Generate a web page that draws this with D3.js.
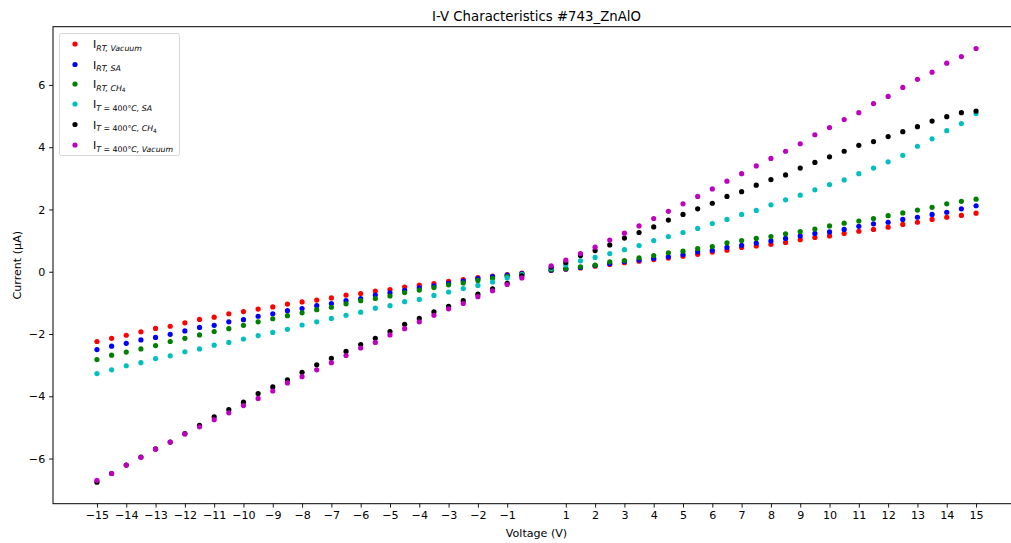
<!DOCTYPE html>
<html>
<head>
<meta charset="utf-8">
<script src="https://cdn.jsdelivr.net/npm/d3@7"></script>
<style>
  html, body { margin: 0; padding: 0; background: #fff; }
  svg { display: block; font-family: "DejaVu Sans", sans-serif; }
</style>
</head>
<body>
<svg id="chart" width="1011" height="543"></svg>
<script>
// ---- data ----
const voltage = [-15,-14.5,-14,-13.5,-13,-12.5,-12,-11.5,-11,-10.5,-10,-9.5,-9,-8.5,-8,-7.5,-7,-6.5,-6,-5.5,-5,-4.5,-4,-3.5,-3,-2.5,-2,-1.5,-1,-0.5,
  0.5,1,1.5,2,2.5,3,3.5,4,4.5,5,5.5,6,6.5,7,7.5,8,8.5,9,9.5,10,10.5,11,11.5,12,12.5,13,13.5,14,14.5,15];

const iRTVacuum = [-2.24,-2.14,-2.04,-1.93,-1.82,-1.75,-1.64,-1.53,-1.46,-1.35,-1.28,-1.20,-1.13,-1.04,-0.97,-0.91,-0.84,-0.75,-0.70,-0.62,-0.57,-0.49,-0.43,-0.38,-0.31,-0.25,-0.19,-0.14,-0.09,-0.04,
  0.04,0.08,0.12,0.18,0.23,0.29,0.34,0.39,0.44,0.50,0.56,0.63,0.69,0.78,0.83,0.88,0.94,1.03,1.10,1.15,1.23,1.30,1.36,1.43,1.52,1.59,1.68,1.75,1.81,1.88];
const iRTSA = [-2.50,-2.39,-2.30,-2.19,-2.11,-2.01,-1.90,-1.79,-1.72,-1.61,-1.54,-1.43,-1.35,-1.25,-1.18,-1.09,-1.02,-0.93,-0.86,-0.75,-0.68,-0.60,-0.52,-0.45,-0.37,-0.30,-0.22,-0.16,-0.11,-0.06,
  0.05,0.09,0.14,0.20,0.26,0.33,0.38,0.43,0.48,0.55,0.64,0.69,0.78,0.85,0.92,0.99,1.07,1.15,1.23,1.28,1.36,1.46,1.54,1.59,1.68,1.75,1.84,1.91,2.02,2.12];
const iRTCH4 = [-2.82,-2.68,-2.58,-2.48,-2.37,-2.24,-2.14,-2.03,-1.92,-1.83,-1.72,-1.61,-1.51,-1.41,-1.32,-1.22,-1.14,-1.03,-0.93,-0.86,-0.78,-0.67,-0.59,-0.51,-0.42,-0.36,-0.28,-0.21,-0.15,-0.08,
  0.07,0.10,0.16,0.21,0.32,0.36,0.45,0.52,0.61,0.66,0.74,0.81,0.93,1.00,1.07,1.13,1.22,1.29,1.37,1.47,1.56,1.63,1.71,1.80,1.89,1.98,2.07,2.18,2.26,2.33];
const i400SA = [-3.27,-3.15,-3.02,-2.92,-2.79,-2.70,-2.57,-2.48,-2.36,-2.27,-2.16,-2.05,-1.95,-1.85,-1.71,-1.61,-1.50,-1.40,-1.30,-1.17,-1.09,-0.96,-0.89,-0.76,-0.65,-0.54,-0.44,-0.33,-0.20,-0.09,
  0.11,0.22,0.35,0.46,0.58,0.71,0.84,1.00,1.13,1.26,1.39,1.55,1.68,1.84,1.97,2.15,2.31,2.46,2.63,2.80,2.95,3.15,3.33,3.53,3.74,4.03,4.27,4.53,4.76,5.08];
const i400CH4 = [-6.76,-6.48,-6.21,-5.95,-5.69,-5.47,-5.20,-4.93,-4.66,-4.43,-4.19,-3.91,-3.70,-3.47,-3.23,-2.99,-2.78,-2.56,-2.34,-2.14,-1.92,-1.69,-1.50,-1.29,-1.11,-0.93,-0.72,-0.55,-0.37,-0.13,
  0.15,0.30,0.52,0.68,0.86,1.08,1.26,1.44,1.66,1.84,2.02,2.20,2.42,2.57,2.78,2.96,3.11,3.33,3.51,3.69,3.87,4.06,4.18,4.34,4.50,4.66,4.84,4.98,5.11,5.16];
const i400Vacuum = [-6.70,-6.48,-6.21,-5.96,-5.70,-5.47,-5.21,-4.98,-4.75,-4.53,-4.30,-4.07,-3.83,-3.57,-3.37,-3.15,-2.92,-2.69,-2.45,-2.27,-2.03,-1.83,-1.61,-1.40,-1.19,-1.02,-0.80,-0.61,-0.41,-0.20,
  0.19,0.37,0.58,0.79,1.02,1.24,1.47,1.71,1.94,2.18,2.42,2.66,2.91,3.15,3.40,3.64,3.87,4.11,4.40,4.63,4.89,5.11,5.40,5.63,5.92,6.18,6.41,6.70,6.91,7.17];

const xTicks = [-15,-14,-13,-12,-11,-10,-9,-8,-7,-6,-5,-4,-3,-2,-1,1,2,3,4,5,6,7,8,9,10,11,12,13,14,15];
const yTicks = [-6,-4,-2,0,2,4,6];

const seriesValues = [iRTVacuum, iRTSA, iRTCH4, i400SA, i400CH4, i400Vacuum];
const seriesColors = ["#ff0000", "#0000ff", "#008000", "#00bfbf", "#000000", "#bf00bf"];
// legend labels: subscript parts [text, italic, subsub]
const seriesLabels = [
  [["RT, Vacuum", true]],
  [["RT, SA", true]],
  [["RT, CH", true], ["4", false, true]],
  [["T", true], [" = 400°", false], ["C, SA", true]],
  [["T", true], [" = 400°", false], ["C, CH", true], ["4", false, true]],
  [["T", true], [" = 400°", false], ["C, Vacuum", true]]
];

// ---- layout ----
const L = 53, R = 1020, T = 26.7, B = 503.7;
const FS = 11.1;
const svg = d3.select("#chart");
const x = d3.scaleLinear().domain([-16.5, 16.5]).range([L, R]);
const y = d3.scaleLinear().domain([-7.45, 7.87]).range([B, T]);

const fmt = d => (d < 0 ? "\u2212" + Math.abs(d) : String(d));

// axes
const xAxis = d3.axisBottom(x).tickValues(xTicks).tickSize(3.9).tickPadding(3.9).tickFormat(fmt);
const yAxis = d3.axisLeft(y).tickValues(yTicks).tickSize(3.9).tickPadding(3.9).tickFormat(fmt);

const gx = svg.append("g").attr("transform", `translate(0,${B})`).call(xAxis);
const gy = svg.append("g").attr("transform", `translate(${L},0)`).call(yAxis);
[gx, gy].forEach(g => {
  g.select(".domain").remove();
  g.selectAll("text").attr("font-size", FS).attr("fill", "#000").attr("font-family", "DejaVu Sans");
  g.selectAll("line").attr("stroke", "#000").attr("stroke-width", 0.9);
});

// points
seriesValues.forEach((vals, si) => {
  svg.append("g").selectAll("circle")
    .data(vals.map((v, i) => [voltage[i], v]))
    .join("circle")
    .attr("cx", d => x(d[0]))
    .attr("cy", d => y(d[1]))
    .attr("r", 2.6)
    .attr("fill", seriesColors[si]);
});

// frame
svg.append("rect").attr("x", L).attr("y", T).attr("width", R - L).attr("height", B - T)
  .attr("fill", "none").attr("stroke", "#000").attr("stroke-width", 1);

// title and labels
svg.append("text").attr("x", 536.5).attr("y", 20.5).attr("text-anchor", "middle")
  .attr("font-size", 13.3).text("I-V Characteristics #743_ZnAlO");
svg.append("text").attr("x", 536.5).attr("y", 537).attr("text-anchor", "middle")
  .attr("font-size", FS).text("Voltage (V)");
svg.append("text").attr("transform", `translate(21,${(T + B) / 2}) rotate(-90)`).attr("text-anchor", "middle")
  .attr("font-size", FS).text("Current (µA)");

// legend
const lg = svg.append("g");
lg.append("rect").attr("x", 59.5).attr("y", 33.5).attr("width", 120).attr("height", 122)
  .attr("rx", 2).attr("fill", "#fff").attr("fill-opacity", 0.8)
  .attr("stroke", "#d6d6d6").attr("stroke-width", 1);
const rowY = [44, 64.5, 84, 104, 124.5, 145];
seriesLabels.forEach((parts, i) => {
  const cy = rowY[i];
  lg.append("circle").attr("cx", 75).attr("cy", cy).attr("r", 2.6).attr("fill", seriesColors[i]);
  const t = lg.append("text").attr("x", 93).attr("y", cy + 4).attr("font-size", FS);
  t.append("tspan").text("I");
  let first = true;
  parts.forEach(p => {
    const ts = t.append("tspan").text(p[0]).attr("font-size", p[2] ? 5.8 : 7.8)
      .attr("font-style", p[1] ? "italic" : "normal");
    if (first) { ts.attr("dy", 2.6); first = false; }
    if (p[2]) { ts.attr("dy", 1.8); }
  });
});
</script>
</body>
</html>
